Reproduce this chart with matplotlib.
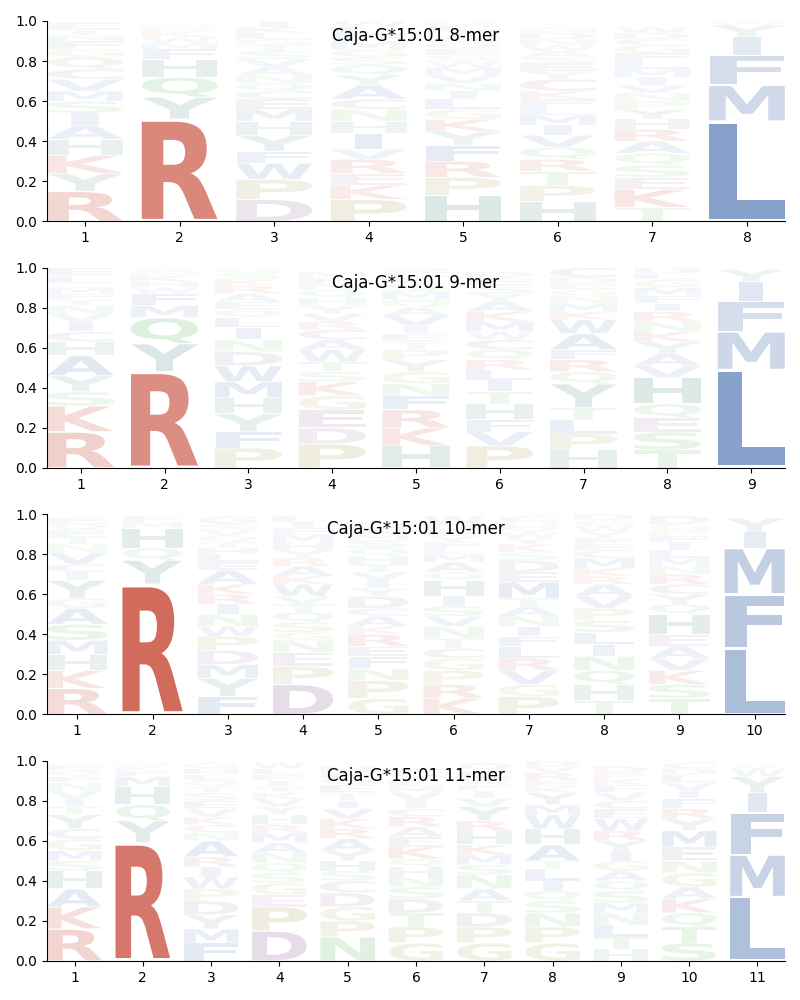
import matplotlib
matplotlib.use("Agg")
import matplotlib.pyplot as plt
from matplotlib.textpath import TextPath
from matplotlib.patches import PathPatch
from matplotlib.font_manager import FontProperties
from matplotlib.transforms import Affine2D

# letter stacks, bottom to top, with their heights (probabilities)
letters_8 = ["RYKHAISMVCQGFNTE", "RYQHFMWKNS", "DPWFYHMECQNAVSTGLKI",
             "PKERVIHNCAYQSGMFLW", "HPRFYKGLINVMWSEQATCD", "HPTRQVIMLFKCYESAWNDG",
             "TKESQARHYPNVIMLFGCDW", "LMFIYW"]
heights_8 = [
    [.15, .09, .09, .08, .07, .06, .06, .05, .06, .05, .06, .04, .04, .03, .03, .03],
    [.51, .11, .10, .09, .05, .03, .03, .03, .02, .02],
    [.11, .10, .08, .06, .08, .07, .06, .05, .04, .04, .04, .04, .04, .04, .03, .03, .03, .03, .03],
    [.11, .07, .06, .07, .05, .08, .06, .06, .05, .07, .05, .05, .04, .04, .04, .03, .04, .03],
    [.13, .09, .08, .08, .07, .06, .05, .05, .04, .04, .04, .04, .03, .03, .03, .03, .03, .03, .03, .02],
    [.10, .08, .07, .06, .06, .06, .05, .05, .04, .04, .04, .06, .04, .04, .03, .03, .03, .03, .03, .03],
    [.07, .09, .06, .06, .06, .06, .06, .05, .05, .04, .04, .04, .04, .04, .04, .04, .04, .03, .03, .03],
    [.50, .18, .15, .09, .06, .02],
]

letters_9 = ["RKSYAHCIVNTFMQLE", "RYQMFWHKNS", "PFYHMWDNILQEARKSG",
             "PDEGKSTWACRVYHQNFM", "HKRFNGYPTEIVAQMSLCD", "PVFHTILRQCWMKAYSED",
             "HPLTYQRFAWKMNGEDC", "TSEQHVAYKNRIFMGLD", "LMFIY"]
heights_9 = [
    [.18, .13, .07, .08, .10, .07, .05, .05, .04, .04, .03, .03, .03, .02, .04, .04],
    [.48, .14, .13, .06, .06, .03, .03, .03, .02, .02],
    [.10, .08, .09, .08, .08, .08, .07, .06, .06, .05, .04, .04, .04, .04, .03, .03, .03],
    [.12, .08, .09, .07, .07, .05, .05, .06, .05, .05, .04, .04, .04, .04, .04, .03, .03, .03],
    [.11, .09, .09, .07, .06, .06, .06, .05, .04, .04, .04, .05, .04, .04, .04, .04, .03, .03, .02],
    [.11, .07, .06, .08, .06, .06, .05, .05, .05, .05, .04, .05, .05, .05, .04, .04, .04, .03],
    [.09, .08, .07, .06, .12, .06, .06, .05, .08, .07, .04, .04, .04, .03, .03, .03, .05],
    [.09, .09, .07, .07, .13, .06, .06, .06, .05, .05, .05, .04, .04, .04, .04, .03, .03],
    [.49, .19, .15, .10, .06],
]

letters_10 = ["RKHMSAGYICVNTFQE", "RYQHMF", "FYMDPWNIRKAELHTQVSG",
              "DPENGSQTVWKARYHMFIL", "GPNFERKACDYIVTHQSMWL", "KRPGCTNVSIHQAMLFYEDW",
              "PGVRLFINATMEDSKYWQHC", "THQNILSPVARKMCEFYWGD", "TSKVAEHQYCRNMLIFPGD",
              "LFMIY"]
heights_10 = [
    [.13, .09, .08, .07, .08, .08, .05, .09, .04, .04, .06, .04, .04, .03, .03, .03],
    [.65, .12, .06, .10, .03, .03],
    [.09, .09, .07, .07, .07, .05, .06, .05, .05, .05, .07, .04, .04, .03, .03, .03, .03, .03, .04],
    [.15, .09, .07, .06, .04, .05, .05, .04, .04, .06, .04, .05, .04, .04, .04, .04, .03, .03, .03],
    [.08, .09, .06, .06, .05, .06, .04, .05, .04, .06, .04, .04, .04, .04, .04, .04, .04, .03, .03, .03],
    [.08, .07, .07, .06, .05, .05, .06, .05, .05, .05, .08, .04, .05, .04, .03, .03, .03, .03, .03, .04],
    [.09, .06, .07, .06, .06, .05, .05, .05, .05, .04, .08, .05, .06, .04, .04, .03, .03, .03, .02, .03],
    [.07, .08, .07, .07, .06, .06, .06, .06, .06, .06, .04, .04, .05, .04, .03, .03, .03, .03, .03, .03],
    [.08, .07, .07, .06, .06, .06, .10, .05, .05, .05, .05, .04, .04, .04, .04, .03, .03, .03, .04],
    [.33, .27, .23, .08, .07],
]

letters_11 = ["RKAHSMGCYTIVNFQE", "RYQHMFKW", "FMYDPWIRANCKVESTQLHG",
              "DPEGSQNAMRHYVKTIFLW", "NPGDCSHYARKVITEQFM", "GPTDSNHQKEARCIVMLYF",
              "GPDTANSMKHRYVIFWCQ", "GPNSQILTAHWMYKERVD", "HTLNMSQAGIYRWECVFKPD",
              "STQKAGNEMYRFIVLDC", "LMFIYWV"]
heights_11 = [
    [.16, .11, .09, .09, .05, .05, .06, .05, .07, .04, .04, .04, .04, .03, .03, .03],
    [.59, .11, .08, .09, .05, .03, .02, .02],
    [.09, .07, .07, .07, .06, .06, .05, .05, .08, .04, .04, .04, .04, .04, .04, .03, .03, .03, .03, .03],
    [.15, .12, .06, .06, .05, .05, .05, .05, .05, .04, .05, .04, .04, .03, .03, .03, .03, .03, .03],
    [.12, .08, .07, .07, .06, .05, .05, .05, .06, .05, .05, .05, .04, .04, .04, .03, .03, .03],
    [.09, .08, .07, .07, .06, .05, .05, .04, .06, .05, .05, .05, .04, .04, .04, .03, .03, .03, .03],
    [.09, .08, .07, .06, .06, .07, .05, .05, .05, .07, .05, .07, .04, .04, .03, .03, .04, .04],
    [.09, .08, .07, .06, .05, .05, .06, .04, .08, .08, .07, .05, .06, .03, .03, .04, .03, .03],
    [.06, .06, .06, .06, .05, .06, .05, .05, .05, .05, .05, .05, .06, .05, .04, .04, .04, .03, .03, .03],
    [.09, .08, .07, .07, .06, .07, .06, .07, .08, .06, .05, .05, .04, .04, .04, .03, .03],
    [.32, .21, .21, .10, .08, .04, .02],
]

panels = [("8-mer", letters_8, heights_8), ("9-mer", letters_9, heights_9),
          ("10-mer", letters_10, heights_10), ("11-mer", letters_11, heights_11)]
allele = "Caja-G*15:01"

# colour groups
group_colors = {
    "RK": "#c9503f",
    "AVLIMFW": "#4c72b0",
    "HY": "#57918b",
    "STNQ": "#5eb45e",
    "PG": "#a6a153",
    "DEC": "#966c9b",
}
aa_color = {}
for aas, c in group_colors.items():
    for a in aas:
        aa_color[a] = c

font = FontProperties(family="DejaVu Sans", weight="bold")
glyphs = {}


def get_glyph(ch):
    if ch not in glyphs:
        glyphs[ch] = TextPath((0, 0), ch, size=1, prop=font)
    return glyphs[ch]


E_WIDTH = get_glyph("E").get_extents().width
WIDTH = 0.8
VPAD = 0.05


def draw_letter(ax, ch, x, y0, h):
    path = get_glyph(ch)
    ext = path.get_extents()
    # narrow letters (I) are not stretched more than E would be
    sx = min(WIDTH / ext.width, WIDTH / E_WIDTH)
    sy = h * (1 - VPAD) / ext.height
    w = ext.width * sx
    t = (Affine2D().translate(-ext.x0, -ext.y0).scale(sx, sy)
         .translate(x - w / 2, y0 + h * VPAD / 2))
    alpha = min(1.0, 1.25 * h ** 0.9)
    patch = PathPatch(t.transform_path(path), facecolor=aa_color[ch],
                      edgecolor="none", alpha=alpha)
    ax.add_patch(patch)


fig, axes = plt.subplots(4, 1, figsize=(8, 10), dpi=100)
plt.subplots_adjust(left=0.059, right=0.981, top=0.979, bottom=0.039, hspace=0.23)

for ax, (name, letters, heights) in zip(axes, panels):
    n = len(letters)
    for i, (col, hs) in enumerate(zip(letters, heights)):
        y = 0.0
        for ch, h in zip(col, hs):
            draw_letter(ax, ch, i + 1, y, h)
            y += h
    ax.set_xlim(0.6, n + 0.4)
    ax.set_ylim(0, 1)
    ax.set_xticks(range(1, n + 1))
    ax.set_yticks([0, 0.2, 0.4, 0.6, 0.8, 1.0])
    ax.spines["top"].set_visible(False)
    ax.spines["right"].set_visible(False)
    ax.text(0.5, 0.925, f"{allele} {name}", transform=ax.transAxes,
            ha="center", va="center", fontsize=12, zorder=10)

plt.savefig("out.png", dpi=100)
